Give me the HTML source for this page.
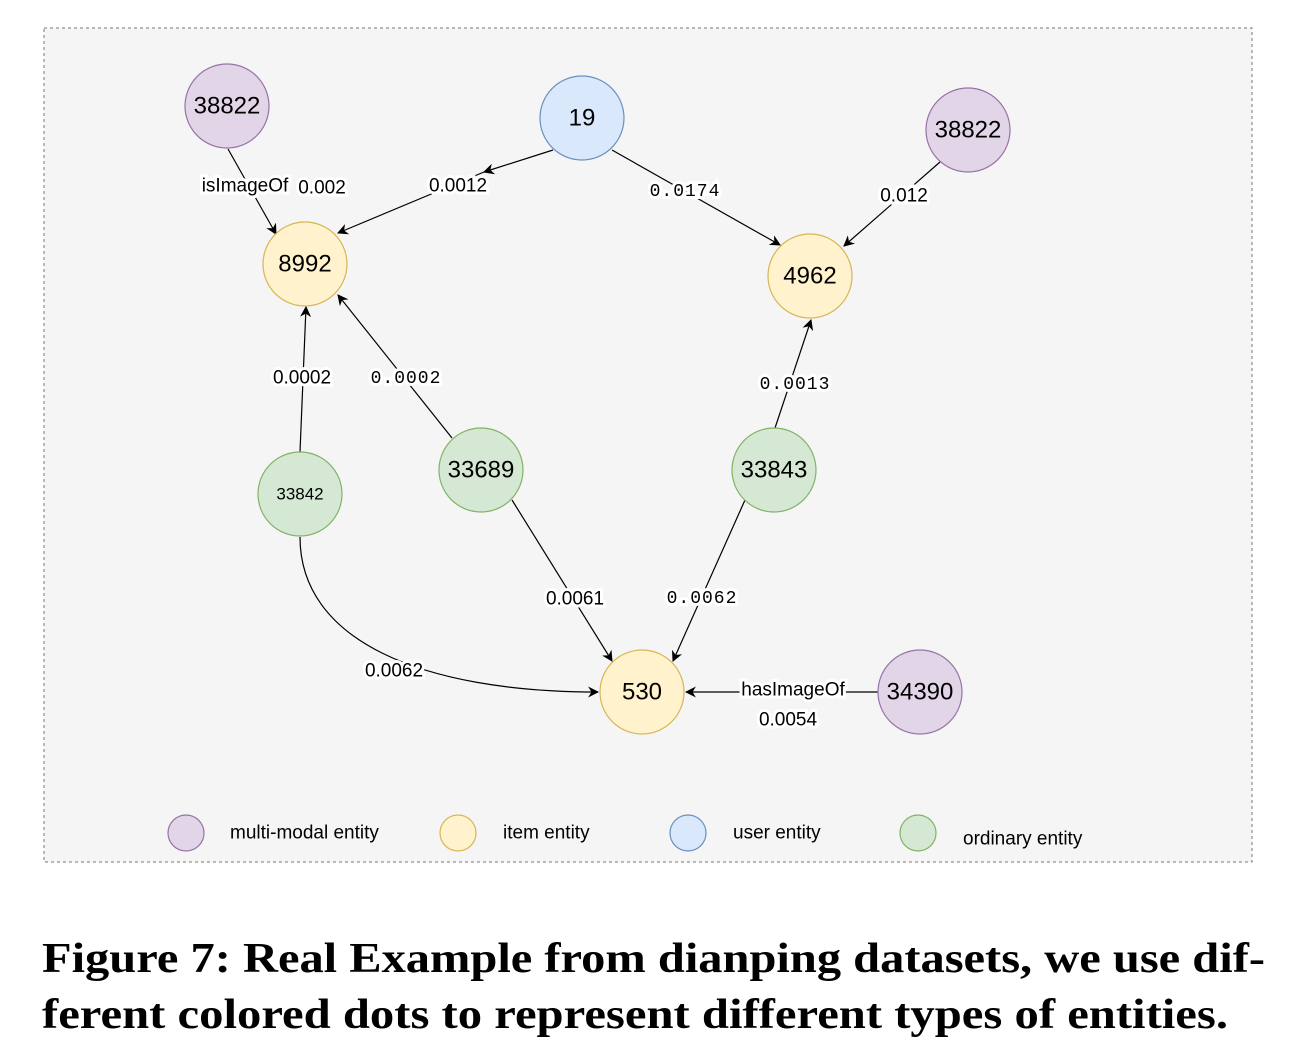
<!DOCTYPE html>
<html><head><meta charset="utf-8"><style>
html,body{margin:0;padding:0;background:#fff;}
svg{display:block;}
.n{font-family:"Liberation Sans",sans-serif;font-size:24px;text-anchor:middle;dominant-baseline:central;fill:#000;}
.l{font-family:"Liberation Sans",sans-serif;font-size:19px;text-anchor:middle;dominant-baseline:central;fill:#000;stroke:#fff;stroke-width:6px;paint-order:stroke;}
.m{font-family:"Liberation Mono",monospace;font-size:18px;letter-spacing:1px;text-anchor:middle;dominant-baseline:central;fill:#000;stroke:#fff;stroke-width:6px;paint-order:stroke;}
.g{font-family:"Liberation Sans",sans-serif;font-size:19px;fill:#000;dominant-baseline:central;}
.e{stroke:#000;stroke-width:1.2;fill:none;marker-end:url(#a);}
.c{font-family:"Liberation Serif",serif;font-weight:bold;font-size:42px;fill:#000;}
</style></head><body>
<svg width="1307" height="1052" viewBox="0 0 1307 1052" xmlns="http://www.w3.org/2000/svg">
<defs><marker id="a" viewBox="0 0 10 10" refX="9" refY="5" markerWidth="11" markerHeight="11" markerUnits="userSpaceOnUse" orient="auto"><path d="M0,0 L10,5 L0,10 L3,5 z" fill="#000"/></marker></defs>
<rect x="44" y="28" width="1208" height="834" fill="#f5f5f5" stroke="#777" stroke-dasharray="3,3"/>
<line class="e" x1="228" y1="149" x2="276" y2="234"/>
<line class="e" x1="553" y1="150" x2="484" y2="172"/>
<line class="e" x1="484" y1="172" x2="338" y2="233"/>
<line class="e" x1="612" y1="150" x2="780" y2="245"/>
<line class="e" x1="940" y1="162" x2="844" y2="246"/>
<line class="e" x1="300" y1="452" x2="306" y2="307"/>
<line class="e" x1="452" y1="438" x2="338" y2="295"/>
<line class="e" x1="775" y1="428" x2="811" y2="320"/>
<line class="e" x1="512" y1="500" x2="612" y2="661"/>
<line class="e" x1="745" y1="500" x2="673" y2="661"/>
<path class="e" d="M300,537 C300,640 420,692 598,692"/>
<line class="e" x1="878" y1="692" x2="686" y2="692"/>
<g stroke-width="1.2">
<circle cx="227" cy="106" r="42" fill="#e1d5e7" stroke="#9673a6"/>
<circle cx="582" cy="118" r="42" fill="#dae8fc" stroke="#6c8ebf"/>
<circle cx="968" cy="130" r="42" fill="#e1d5e7" stroke="#9673a6"/>
<circle cx="305" cy="264" r="42" fill="#fff2cc" stroke="#d6b656"/>
<circle cx="810" cy="276" r="42" fill="#fff2cc" stroke="#d6b656"/>
<circle cx="300" cy="494" r="42" fill="#d5e8d4" stroke="#82b366"/>
<circle cx="481" cy="470" r="42" fill="#d5e8d4" stroke="#82b366"/>
<circle cx="774" cy="470" r="42" fill="#d5e8d4" stroke="#82b366"/>
<circle cx="642" cy="692" r="42" fill="#fff2cc" stroke="#d6b656"/>
<circle cx="920" cy="692" r="42" fill="#e1d5e7" stroke="#9673a6"/>
<circle cx="186" cy="833" r="18" fill="#e1d5e7" stroke="#9673a6"/>
<circle cx="458" cy="833" r="18" fill="#fff2cc" stroke="#d6b656"/>
<circle cx="688" cy="833" r="18" fill="#dae8fc" stroke="#6c8ebf"/>
<circle cx="918" cy="833" r="18" fill="#d5e8d4" stroke="#82b366"/>
</g>
<text class="n" x="227" y="106">38822</text>
<text class="n" x="582" y="118">19</text>
<text class="n" x="968" y="130">38822</text>
<text class="n" x="305" y="264">8992</text>
<text class="n" x="810" y="276">4962</text>
<text class="n" x="300" y="494" style="font-size:17px">33842</text>
<text class="n" x="481" y="470">33689</text>
<text class="n" x="774" y="470">33843</text>
<text class="n" x="642" y="692">530</text>
<text class="n" x="920" y="692">34390</text>
<text class="l" x="245" y="186">isImageOf</text>
<text class="l" x="322" y="188">0.002</text>
<text class="l" x="458" y="186">0.0012</text>
<text class="m" x="685" y="192">0.0174</text>
<text class="l" x="904" y="196">0.012</text>
<text class="l" x="302" y="378">0.0002</text>
<text class="m" x="406" y="379">0.0002</text>
<text class="m" x="795" y="385">0.0013</text>
<text class="l" x="575" y="599">0.0061</text>
<text class="m" x="702" y="599">0.0062</text>
<text class="l" x="394" y="671">0.0062</text>
<text class="l" x="793" y="690">hasImageOf</text>
<text class="l" x="788" y="720">0.0054</text>
<text class="g" x="230" y="833">multi-modal entity</text>
<text class="g" x="503" y="833">item entity</text>
<text class="g" x="733" y="833">user entity</text>
<text class="g" x="963" y="839">ordinary entity</text>
<text class="c" x="42" y="972" textLength="1223" lengthAdjust="spacingAndGlyphs">Figure 7: Real Example from dianping datasets, we use dif-</text>
<text class="c" x="42" y="1028" textLength="1186" lengthAdjust="spacingAndGlyphs">ferent colored dots to represent different types of entities.</text>
</svg>
</body></html>
